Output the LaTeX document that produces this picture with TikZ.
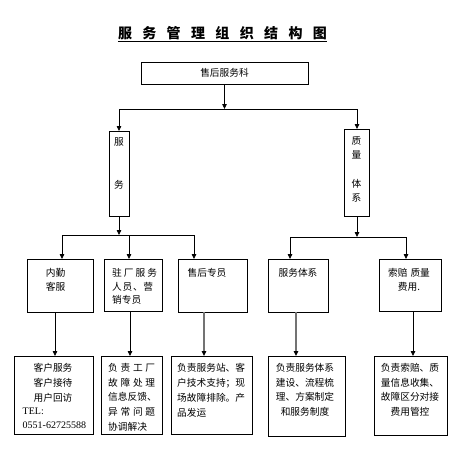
\documentclass[tikz,border=0pt]{standalone}
\usepackage{fontspec}
\setmainfont{Liberation Serif}
\newfontfamily\cjk{Noto Sans CJK SC}
\usetikzlibrary{arrows.meta,calc}
\tikzset{
  x=1pt, y=-1pt,
  box/.style={draw, line width=0.8pt, inner sep=0pt, outer sep=0pt},
  ln/.style={line width=0.8pt},
  arr/.style={line width=0.8pt, -{Triangle[length=5pt,width=4.5pt]}},
  garr/.style={line width=1.2pt, draw=black!55, -{Triangle[length=5pt,width=4.5pt,color=black]}},
  txt/.style={font=\cjk\fontsize{9.7}{14.6}\selectfont, inner sep=0pt, align=center},
  mtxt/.style={font=\cjk\fontsize{9.7}{13.4}\selectfont, inner sep=0pt, align=center},
}
\begin{document}
\begin{tikzpicture}
\useasboundingbox (0,0) rectangle (463,453);
\fill[white] (0,0) rectangle (463,453);

% title
\node[font=\cjk\bfseries\fontsize{14}{14}\selectfont, inner sep=0pt] (title) at (222.5,33.5)
  {\makebox[209pt][s]{服\hfill 务\hfill 管\hfill 理\hfill 组\hfill 织\hfill 结\hfill 构\hfill 图}};
\draw[line width=1.3pt] (title.west |- 0,41.8) -- (title.east |- 0,41.8);

% boxes
\node[box, minimum width=167pt, minimum height=22pt, font=\cjk\fontsize{9.7}{12}\selectfont] (top) at (224.5,73) {售后服务科};
\node[box, minimum width=20pt, minimum height=85pt] (fw) at (119,173.5) {};
\node[box, minimum width=25pt, minimum height=87pt] (zl) at (356.5,172.5) {};

\node[box, minimum width=66pt, minimum height=53pt] (n1) at (60,285.5) {};
\node[box, minimum width=58pt, minimum height=52pt] (n2) at (133,285) {};
\node[box, minimum width=69pt, minimum height=53pt] (n3) at (212.5,285.5) {};
\node[box, minimum width=60pt, minimum height=53pt] (n4) at (298,285.5) {};
\node[box, minimum width=62pt, minimum height=52pt] (n5) at (410,285) {};

\node[box, minimum width=79pt, minimum height=78pt] (b1) at (53.5,395) {};
\node[box, minimum width=61pt, minimum height=78pt] (b2) at (131.5,395) {};
\node[box, minimum width=81pt, minimum height=78pt] (b3) at (211.5,395) {};
\node[box, minimum width=77pt, minimum height=80pt] (b4) at (306.5,396) {};
\node[box, minimum width=73pt, minimum height=79pt] (b5) at (410.5,395.5) {};

% texts
\node[txt] (tfw1) at (119,142) {服};
\node[txt] (tfw2) at (119,185) {务};
\node[mtxt, anchor=north] (tzl1) at (356.5,136.6) {质\\量};
\node[mtxt, anchor=north] (tzl2) at (356.5,179.6) {体\\系};

\node[mtxt, anchor=north] (tn1) at (55.5,268.4) {内勤\\客服};
\node[mtxt, anchor=north west, align=left] (tn2) at (112,268.4)
  {\makebox[45pt][s]{驻\hfill 厂\hfill 服\hfill 务}\\\makebox[41pt][s]{人\hfill 员\hfill 、\hfill 营}\\销专员};
\node[mtxt, anchor=north] (tn3) at (207,268) {售后专员};
\node[mtxt, anchor=north] (tn4) at (298,268.4) {服务体系};
\node[mtxt, anchor=north] (tn5) at (409,268.4) {索赔\hspace{3pt}质量\\费用.};

\node[txt, anchor=north] (tb1) at (53,363.4) {客户服务\\客户接待\\用户回访};
\node[font=\fontsize{10}{13.5}\selectfont, inner sep=0pt, align=left, anchor=north west] (tel) at (22.5,408.2) {TEL:\\0551-62725588};
\node[txt, anchor=north west, align=left] (tb2) at (108,363.4)
  {\makebox[47pt][s]{负\hfill 责\hfill 工\hfill 厂}\\
   \makebox[47pt][s]{故\hfill 障\hfill 处\hfill 理}\\
   信息反馈、\\
   \makebox[47pt][s]{异\hfill 常\hfill 问\hfill 题}\\
   协调解决};
\node[font=\cjk\fontsize{9.7}{15}\selectfont, inner sep=0pt, align=left, anchor=north west] (tb3) at (177,363.4)
  {负责服务站、客\\户技术支持；现\\场故障排除。产\\品发运};
\node[txt, anchor=north] (tb4) at (305,363.4) {负责服务体系\\建设、流程梳\\理、方案制定\\和服务制度};
\node[txt, anchor=north] (tb5) at (410,363.4) {负责索赔、质\\量信息收集、\\故障区分对接\\费用管控};

% connectors tier 1
\coordinate (j1) at (224.5,109);
\coordinate (hl) at (119,109);
\coordinate (hr) at (357,109);
\draw[arr] (top.south) -- (j1);
\draw[ln] (hl) -- (hr);
\draw[arr] (hl) -- (hl |- fw.north);
\draw[arr] (hr) -- (hr |- zl.north);

% tier 2 left
\coordinate (j2) at (119,235);
\coordinate (l1) at (62,235);
\coordinate (l2) at (129,235);
\coordinate (l3) at (194,235);
\draw[arr] (fw.south) -- (j2);
\draw[ln] (l1) -- (l3);
\draw[arr] (l1) -- (l1 |- n1.north);
\draw[arr] (l2) -- (l2 |- n2.north);
\draw[arr] (l3) -- (l3 |- n3.north);

% tier 2 right
\coordinate (j3) at (357,237);
\coordinate (r1) at (290,237);
\coordinate (r2) at (406,237);
\draw[arr] (zl.south -| j3) -- (j3);
\draw[ln] (r1) -- (r2);
\draw[arr] (r1) -- (r1 |- n4.north);
\draw[arr] (r2) -- (r2 |- n5.north);

% tier 3
\coordinate (c1) at (55,0);
\coordinate (c2) at (130,0);
\coordinate (c3) at (204,0);
\coordinate (c4) at (296,0);
\coordinate (c5) at (413,0);
\draw[arr] (c1 |- n1.south) -- (c1 |- b1.north);
\draw[arr] (c2 |- n2.south) -- (c2 |- b2.north);
\draw[garr] (c3 |- n3.south) -- (c3 |- b3.north);
\draw[garr] (c4 |- n4.south) -- (c4 |- b4.north);
\draw[arr] (c5 |- n5.south) -- (c5 |- b5.north);
\end{tikzpicture}
\end{document}
